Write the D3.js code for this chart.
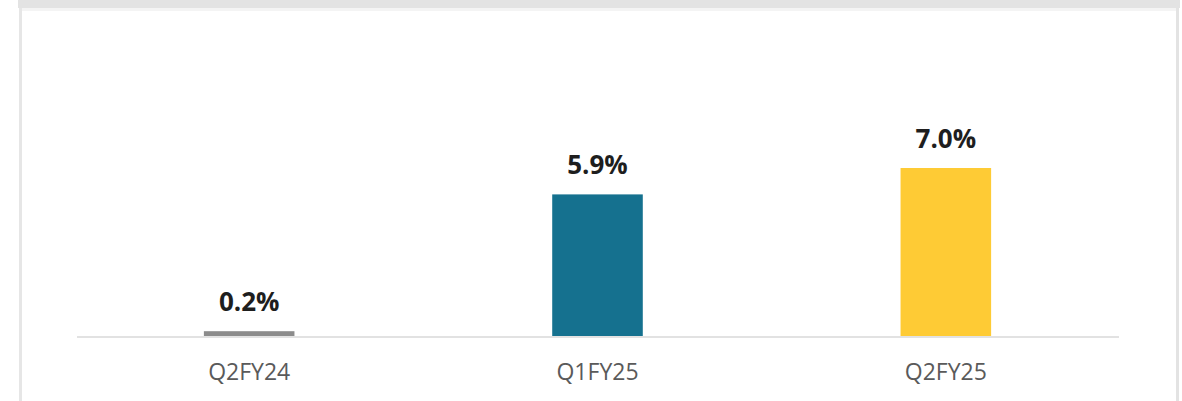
<!DOCTYPE html>
<html>
<head>
<meta charset="utf-8">
<script src="https://cdn.jsdelivr.net/npm/d3@7/dist/d3.min.js"></script>
<style>
  html, body { margin: 0; padding: 0; background: #ffffff; }
  svg { display: block; }
</style>
</head>
<body>
<div id="chart"></div>
<script>
// Quarterly growth, in percent
const categories = ["Q2FY24", "Q1FY25", "Q2FY25"];
const values = [0.2, 5.9, 7.0];
const valueLabels = ["0.2%", "5.9%", "7.0%"];
const barColors = ["#8c8c8c", "#15718f", "#fecb35"];

const W = 1182, H = 401;
const svg = d3.select("#chart").append("svg")
  .attr("width", W).attr("height", H);

// Panel frame: grey strip along the top, thin borders at the sides
svg.append("rect").attr("x", 18).attr("y", 0).attr("width", 1162).attr("height", 8)
  .attr("fill", "#e3e3e3");
svg.append("rect").attr("x", 19).attr("y", 8).attr("width", 3).attr("height", H - 8)
  .attr("fill", "#e6e6e6");
svg.append("rect").attr("x", 1176).attr("y", 8).attr("width", 3).attr("height", H - 8)
  .attr("fill", "#e3e3e3");
svg.append("rect").attr("x", 22).attr("y", 8).attr("width", 1154).attr("height", 3)
  .attr("fill", "#f4f4f4");

const baseY = 336;
const x = d3.scaleBand()
  .domain(categories)
  .range([75, 1120])
  .paddingInner(0.74)
  .paddingOuter(0.37);

const y = d3.scaleLinear()
  .domain([0, 10])
  .range([baseY, baseY - 240]);

const data = categories.map((c, i) => ({ c, v: values[i], label: valueLabels[i], color: barColors[i] }));

// Bars
svg.append("g").selectAll("rect")
  .data(data)
  .join("rect")
  .attr("x", d => x(d.c))
  .attr("y", d => y(d.v))
  .attr("width", x.bandwidth())
  .attr("height", d => y(0) - y(d.v))
  .attr("fill", d => d.color);

// Category axis: baseline only, no ticks
const axis = svg.append("g")
  .attr("transform", `translate(0,${baseY + 1})`)
  .call(d3.axisBottom(x).tickSize(0).tickPadding(0));
axis.select(".domain").attr("stroke", "#d9d9d9").attr("stroke-width", 1.5)
  .attr("d", "M77,0H1119");
axis.selectAll(".tick text")
  .attr("y", 43)
  .attr("dy", 0)
  .attr("fill", "#5a5a5a")
  .style("font-family", "'Open Sans', sans-serif")
  .style("font-size", "23px");

// Value labels above bars
svg.append("g").selectAll("text")
  .data(data)
  .join("text")
  .attr("x", d => x(d.c) + x.bandwidth() / 2)
  .attr("y", d => y(d.v) - 20)
  .attr("text-anchor", "middle")
  .attr("fill", "#1e1e1e")
  .style("font-family", "'Open Sans', sans-serif")
  .style("font-weight", "700")
  .style("font-size", "26px")
  .text(d => d.label);
</script>
</body>
</html>
